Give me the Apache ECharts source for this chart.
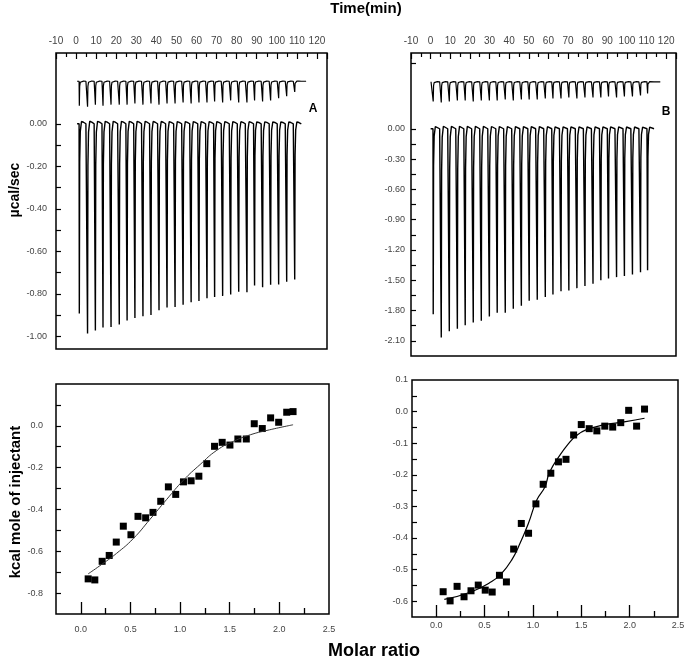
<!DOCTYPE html>
<html><head><meta charset="utf-8">
<script src="https://cdn.jsdelivr.net/npm/echarts@6/dist/echarts.min.js"></script>
<style>html,body{margin:0;padding:0;background:#fff}#c{width:688px;height:662px}</style>
</head><body><div id="c"></div>
<script>
// ---- Data ----
// Panel A raw thermogram: injection times (min) and peak minima (ucal/sec)
const timesA = [1.5,5.6,9.5,13.3,17.3,21.4,25.3,29.2,33.2,37.2,41.2,45.2,49.2,53.2,57.2,61.1,65.1,68.9,72.9,76.9,80.9,85.0,88.8,92.8,96.8,100.8,104.8,108.8];
const peaksA = [-0.893,-0.987,-0.973,-0.959,-0.956,-0.945,-0.926,-0.914,-0.906,-0.900,-0.878,-0.865,-0.862,-0.852,-0.840,-0.834,-0.821,-0.815,-0.810,-0.804,-0.790,-0.793,-0.761,-0.769,-0.758,-0.757,-0.744,-0.733];
const refBaseA = 0.20;
const refPeaksA = [0.085,0.08,0.09,0.085,0.09,0.09,0.09,0.095,0.09,0.095,0.09,0.095,0.095,0.10,0.095,0.10,0.10,0.105,0.10,0.11,0.10,0.10,0.11,0.105,0.11,0.12,0.13,0.15];
// Panel B raw thermogram
const timesB = [1.2,5.3,9.4,13.5,17.5,21.6,25.7,29.8,33.8,37.9,42.0,46.1,50.1,54.2,58.3,62.2,66.3,70.3,74.4,78.5,82.6,86.6,90.5,94.6,98.6,102.7,106.8,110.4];
const peaksB = [-1.836,-2.067,-2.004,-1.981,-1.945,-1.918,-1.902,-1.859,-1.822,-1.822,-1.783,-1.753,-1.703,-1.694,-1.667,-1.641,-1.608,-1.601,-1.578,-1.558,-1.535,-1.499,-1.482,-1.469,-1.459,-1.443,-1.420,-1.400];
const refBaseB = 0.465;
const refPeaksB = [0.27,0.26,0.27,0.28,0.28,0.27,0.28,0.28,0.28,0.29,0.28,0.29,0.29,0.29,0.30,0.30,0.30,0.31,0.30,0.31,0.31,0.31,0.32,0.31,0.32,0.32,0.33,0.35];
// Peak shape template: [minutes after injection, fraction of peak depth]
const peakShape = [[0,0],[0.12,1],[0.3,0.2],[0.6,0.04],[1.2,-0.012],[2.2,-0.008],[3.4,0]];

// Panel A isotherm
const molarA = [0.074,0.141,0.215,0.286,0.357,0.428,0.505,0.576,0.653,0.727,0.805,0.882,0.956,1.034,1.111,1.189,1.269,1.347,1.424,1.502,1.582,1.667,1.747,1.828,1.912,1.993,2.074,2.138];
const heatA = [-0.732,-0.737,-0.648,-0.620,-0.556,-0.480,-0.521,-0.433,-0.440,-0.414,-0.361,-0.292,-0.328,-0.268,-0.263,-0.241,-0.181,-0.098,-0.079,-0.092,-0.063,-0.063,0.010,-0.013,0.038,0.017,0.065,0.068];
const fitXA = [0.074,0.192,0.360,0.529,0.697,0.865,1.034,1.202,1.370,1.539,1.707,1.875,2.138];
const fitYA = [-0.708,-0.669,-0.610,-0.539,-0.447,-0.352,-0.260,-0.185,-0.117,-0.074,-0.043,-0.022,0.005];
// Panel B isotherm
const molarB = [0.072,0.144,0.216,0.288,0.360,0.435,0.507,0.579,0.654,0.726,0.801,0.880,0.955,1.031,1.106,1.185,1.264,1.342,1.421,1.500,1.582,1.661,1.743,1.825,1.908,1.990,2.072,2.154];
const heatB = [-0.570,-0.599,-0.553,-0.586,-0.567,-0.549,-0.565,-0.571,-0.518,-0.539,-0.435,-0.354,-0.385,-0.292,-0.230,-0.195,-0.159,-0.151,-0.074,-0.041,-0.054,-0.061,-0.046,-0.049,-0.035,0.004,-0.046,0.008];
const fitXB = [0.084,0.367,0.574,0.677,0.780,0.867,0.953,1.040,1.125,1.171,1.274,1.377,1.445,1.548,1.719,1.959,2.154];
const fitYB = [-0.594,-0.570,-0.538,-0.512,-0.470,-0.417,-0.354,-0.280,-0.238,-0.193,-0.140,-0.098,-0.077,-0.058,-0.043,-0.032,-0.021];

// Tick / label values
const timeLabels = [-10,0,10,20,30,40,50,60,70,80,90,100,110,120];
const ticksYA = [-1.0,-0.9,-0.8,-0.7,-0.6,-0.5,-0.4,-0.3,-0.2,-0.1,0.0];
const labelsYA = [-1.0,-0.8,-0.6,-0.4,-0.2,0.0];
const ticksYB = [-2.10,-1.95,-1.80,-1.65,-1.50,-1.35,-1.20,-1.05,-0.90,-0.75,-0.60,-0.45,-0.30,-0.15,0.0,0.65];
const labelsYB = [-2.10,-1.80,-1.50,-1.20,-0.90,-0.60,-0.30,0.0];
const molarMajor = [0,0.5,1.0,1.5,2.0];
const molarMinor = [0.25,0.75,1.25,1.75,2.25];
const molarLabels = [0,0.5,1.0,1.5,2.0,2.5];
const ticksYC = [-0.8,-0.7,-0.6,-0.5,-0.4,-0.3,-0.2,-0.1,0.0,0.1];
const labelsYC = [-0.8,-0.6,-0.4,-0.2,0.0];
const ticksYD = [-0.6,-0.55,-0.5,-0.45,-0.4,-0.35,-0.3,-0.25,-0.2,-0.15,-0.1,-0.05,0.0,0.05];
const labelsYD = [-0.6,-0.5,-0.4,-0.3,-0.2,-0.1,0.0,0.1];

function trace(times, bottoms, base, t0, t1) {
  const d = [[t0, base]];
  times.forEach((t, i) => {
    peakShape.forEach(([dt, f]) => d.push([t + dt, base + (bottoms[i] - base) * f]));
  });
  d.push([t1, base]);
  return d;
}
const zip = (a, b) => a.map((v, i) => [v, b[i]]);

const labelColor = '#444';
const font = 'Liberation Sans, Arial, sans-serif';
const box = {show: true, borderColor: '#000', borderWidth: 1.5, backgroundColor: 'transparent'};
const noLine = {show: false, onZero: false};

function timeAxis(gi) {
  return {type: 'value', gridIndex: gi, position: 'top', min: -10, max: 125, interval: 10,
    axisLine: noLine, splitLine: {show: false},
    axisTick: {show: true, inside: true, length: 6, lineStyle: {color: '#000', width: 1.2}},
    minorTick: {show: true, splitNumber: 2, length: 4, lineStyle: {color: '#000', width: 1.2}},
    axisLabel: {show: true, margin: 7, fontSize: 10, color: labelColor, fontFamily: font,
      customValues: timeLabels}};
}
function yAxis(gi, min, max, ticks, labels, dec, margin) {
  return {type: 'value', gridIndex: gi, position: 'left', min: min, max: max,
    axisLine: noLine, splitLine: {show: false},
    axisTick: {show: true, inside: true, length: 5, customValues: ticks, lineStyle: {color: '#000', width: 1.2}},
    axisLabel: {show: true, customValues: labels, margin: margin, fontSize: 9, color: labelColor, fontFamily: font,
      formatter: v => Number(v).toFixed(dec)}};
}
function molarAxis(gi, margin) {
  return {type: 'value', gridIndex: gi, position: 'bottom', min: -0.25, max: 2.5,
    axisLine: noLine, splitLine: {show: false},
    axisTick: {show: true, inside: true, length: 12, customValues: molarMajor, lineStyle: {color: '#000', width: 1.3}},
    axisLabel: {show: true, customValues: molarLabels, margin: margin, fontSize: 9, color: labelColor, fontFamily: font,
      formatter: v => Number(v).toFixed(1)}};
}
function molarMinorAxis(gi) {
  return {type: 'value', gridIndex: gi, position: 'bottom', offset: 0, min: -0.25, max: 2.5,
    axisLine: noLine, splitLine: {show: false},
    axisTick: {show: true, inside: true, length: 6, customValues: molarMinor, lineStyle: {color: '#000', width: 1.3}},
    axisLabel: {show: false}};
}

const chart = echarts.init(document.getElementById('c'), null, {renderer: 'canvas'});
chart.setOption({
  animation: false,
  backgroundColor: '#fff',
  grid: [
    Object.assign({left: 56, top: 53, width: 271, height: 296}, box),
    Object.assign({left: 411, top: 53, width: 265, height: 303}, box),
    Object.assign({left: 56, top: 384, width: 273, height: 230}, box),
    Object.assign({left: 412, top: 380, width: 266, height: 237}, box)
  ],
  xAxis: [timeAxis(0), timeAxis(1), molarAxis(2, 11), molarAxis(3, 4), molarMinorAxis(2), molarMinorAxis(3)],
  yAxis: [
    yAxis(0, -1.06, 0.333, ticksYA, labelsYA, 2, 9),
    yAxis(1, -2.25, 0.75, ticksYB, labelsYB, 2, 6),
    yAxis(2, -0.9, 0.2, ticksYC, labelsYC, 1, 13),
    yAxis(3, -0.65, 0.1, ticksYD, labelsYD, 1, 4)
  ],
  series: [
    {type: 'line', xAxisIndex: 0, yAxisIndex: 0, showSymbol: false, data: trace(timesA, peaksA, 0, 0.5, 112.5),
      lineStyle: {color: '#000', width: 1.4}},
    {type: 'line', xAxisIndex: 0, yAxisIndex: 0, showSymbol: false, data: trace(timesA, refPeaksA, refBaseA, 0.5, 114.6),
      lineStyle: {color: '#000', width: 1.2}},
    {type: 'line', xAxisIndex: 1, yAxisIndex: 1, showSymbol: false, data: trace(timesB, peaksB, 0, 0, 113.8),
      lineStyle: {color: '#000', width: 1.4}},
    {type: 'line', xAxisIndex: 1, yAxisIndex: 1, showSymbol: false, data: trace(timesB, refPeaksB, refBaseB, 0.2, 117),
      lineStyle: {color: '#000', width: 1.2}},
    {type: 'scatter', xAxisIndex: 2, yAxisIndex: 2, symbol: 'rect', symbolSize: 7, data: zip(molarA, heatA),
      itemStyle: {color: '#000', opacity: 1}},
    {type: 'line', xAxisIndex: 2, yAxisIndex: 2, showSymbol: false, smooth: true, data: zip(fitXA, fitYA),
      lineStyle: {color: '#333', width: 1}},
    {type: 'scatter', xAxisIndex: 3, yAxisIndex: 3, symbol: 'rect', symbolSize: 7, data: zip(molarB, heatB),
      itemStyle: {color: '#000', opacity: 1}},
    {type: 'line', xAxisIndex: 3, yAxisIndex: 3, showSymbol: false, smooth: true, data: zip(fitXB, fitYB),
      lineStyle: {color: '#000', width: 1.2}}
  ],
  graphic: [
    {type: 'text', x: 366, y: 9, style: {text: 'Time(min)', font: 'bold 15px ' + font, fill: '#000', align: 'center', verticalAlign: 'middle'}},
    {type: 'text', x: 15, y: 190, rotation: Math.PI / 2, style: {text: 'µcal/sec', font: 'bold 14px ' + font, fill: '#000', align: 'center', verticalAlign: 'middle'}},
    {type: 'text', x: 16, y: 502, rotation: Math.PI / 2, style: {text: 'kcal mole of injectant', font: 'bold 15px ' + font, fill: '#000', align: 'center', verticalAlign: 'middle'}},
    {type: 'text', x: 374, y: 651, style: {text: 'Molar ratio', font: 'bold 18px ' + font, fill: '#000', align: 'center', verticalAlign: 'middle'}},
    {type: 'text', x: 313, y: 109, style: {text: 'A', font: 'bold 12px ' + font, fill: '#000', align: 'center', verticalAlign: 'middle'}},
    {type: 'text', x: 666, y: 112, style: {text: 'B', font: 'bold 12px ' + font, fill: '#000', align: 'center', verticalAlign: 'middle'}}
  ]
});
</script></body></html>
